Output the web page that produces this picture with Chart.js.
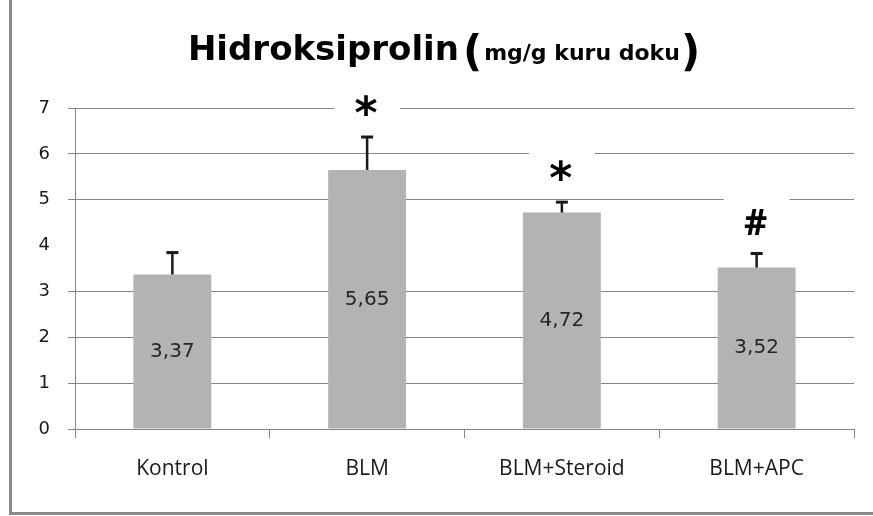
<!DOCTYPE html>
<html><head><meta charset="utf-8">
<script src="https://cdn.jsdelivr.net/npm/chart.js@4"></script>
<style>html,body{margin:0;padding:0;background:#fff}#wrap{width:873px;height:516px;position:relative}</style>
</head><body><div id="wrap"><canvas id="c" width="873" height="516"></canvas></div>
<script>
const categories = ['Kontrol', 'BLM', 'BLM+Steroid', 'BLM+APC'];
const meanValues = [3.37, 5.65, 4.72, 3.52];
const errorValues = [0.51, 0.75, 0.26, 0.34];
const significance = ['', '*', '*', '#'];
const yTicks = [0, 1, 2, 3, 4, 5, 6, 7];
const hiddenGridValues = [4];
const titleMain = 'Hidroksiprolin';
const titleUnit = 'mg/g kuru doku';

const GRID = '#868686';
const fmt = v => v.toFixed(2).replace('.', ',');

const framePlugin = {
  id: 'frame',
  beforeDraw(chart) {
    const c = chart.ctx;
    c.save();
    c.fillStyle = '#ffffff';
    c.fillRect(0, 0, chart.width, chart.height);
    c.strokeStyle = '#8a8a8a';
    c.lineWidth = 3;
    c.beginPath();
    c.moveTo(10.5, 0); c.lineTo(10.5, 513.5); c.lineTo(chart.width, 513.5);
    c.stroke();
    c.restore();
  }
};

const titlePlugin = {
  id: 'mixedTitle',
  afterDraw(chart) {
    const c = chart.ctx;
    c.save();
    c.fillStyle = '#000';
    c.textBaseline = 'alphabetic';
    const fMain = 'bold 34px "DejaVu Sans"';
    const fParen = 'bold 42px "DejaVu Sans"';
    const fUnit = 'bold 22px "DejaVu Sans"';
    c.font = fMain; const w1 = c.measureText(titleMain).width;
    c.font = fParen; const wp1 = c.measureText('(').width; const wp2 = c.measureText(')').width;
    c.font = fUnit; const wu = c.measureText(titleUnit).width;
    const g1 = 4, g2 = 2, g3 = 1;
    const total = w1 + g1 + wp1 + g2 + wu + g3 + wp2;
    let x = 444 - total / 2;
    const base = 60;
    c.font = fMain; c.fillText(titleMain, x, base); x += w1 + g1;
    c.font = fParen; c.fillText('(', x, base + 6); x += wp1 + g2;
    c.font = fUnit; c.fillText(titleUnit, x, base); x += wu + g3;
    c.font = fParen; c.fillText(')', x, base + 6);
    c.restore();
  }
};

const annotPlugin = {
  id: 'annot',
  afterDatasetsDraw(chart) {
    const c = chart.ctx;
    const meta = chart.getDatasetMeta(0);
    const ys = chart.scales.y;
    c.save();
    // symbol boxes (white text boxes covering grid lines)
    meta.data.forEach((bar, i) => {
      if (!significance[i]) return;
      const capY = ys.getPixelForValue(meanValues[i] + errorValues[i]);
      const cy = capY - 30;
      c.fillStyle = '#ffffff';
      c.fillRect(bar.x - 33, cy - 32, 66, 58);
    });
    // error bars
    c.strokeStyle = '#1a1a1a';
    meta.data.forEach((bar, i) => {
      const top = ys.getPixelForValue(meanValues[i] + errorValues[i]);
      c.lineWidth = 2.5;
      c.beginPath(); c.moveTo(bar.x, bar.y); c.lineTo(bar.x, top + 1); c.stroke();
      c.lineWidth = 3;
      c.beginPath(); c.moveTo(bar.x - 6, top + 1.5); c.lineTo(bar.x + 6, top + 1.5); c.stroke();
    });
    // value labels
    c.fillStyle = '#262626';
    c.font = '20px "DejaVu Sans"';
    c.textAlign = 'center';
    c.textBaseline = 'middle';
    meta.data.forEach((bar, i) => {
      c.fillText(fmt(meanValues[i]), bar.x, ys.getPixelForValue(meanValues[i] / 2));
    });
    // significance symbols
    c.fillStyle = '#000';
    c.textBaseline = 'alphabetic';
    meta.data.forEach((bar, i) => {
      const s = significance[i];
      if (!s) return;
      c.font = s === '*' ? 'bold 44px "DejaVu Sans"' : 'bold 36px "Open Sans"';
      const capY = ys.getPixelForValue(meanValues[i] + errorValues[i]);
      const cy = capY - 30;
      const m = c.measureText(s);
      const base = cy + (m.actualBoundingBoxAscent - m.actualBoundingBoxDescent) / 2;
      c.fillText(s, bar.x - 1, base);
    });
    c.restore();
  }
};

new Chart(document.getElementById('c'), {
  type: 'bar',
  data: {
    labels: categories,
    datasets: [{
      data: meanValues,
      backgroundColor: '#b3b3b3',
      borderWidth: 0,
      barPercentage: 0.4,
      categoryPercentage: 1.0
    }]
  },
  options: {
    responsive: false,
    animation: false,
    devicePixelRatio: 1,
    layout: { padding: { top: 108, right: 19, left: 0, bottom: 0 } },
    plugins: { legend: { display: false }, tooltip: { enabled: false }, title: { display: false } },
    scales: {
      x: {
        grid: { display: true, drawOnChartArea: false, drawTicks: true, tickLength: 9, color: GRID, offset: true },
        border: { display: true, color: GRID, width: 1 },
        ticks: { color: '#1a1a1a', font: { family: 'Open Sans', size: 21 }, padding: 18 },
        afterFit(s) { s.height = 87; }
      },
      y: {
        min: 0, max: 7,
        afterBuildTicks(s) { s.ticks = yTicks.map(v => ({ value: v })); },
        ticks: { color: '#1a1a1a', font: { family: 'DejaVu Sans', size: 18 }, padding: 18 },
        grid: {
          tickLength: 7,
          color: ctx => (ctx.tick && hiddenGridValues.includes(ctx.tick.value)) ? 'rgba(0,0,0,0)' : GRID
        },
        border: { display: true, color: GRID, width: 1 },
        afterFit(s) { s.width = 75; }
      }
    }
  },
  plugins: [framePlugin, titlePlugin, annotPlugin]
});
</script>
</body></html>
